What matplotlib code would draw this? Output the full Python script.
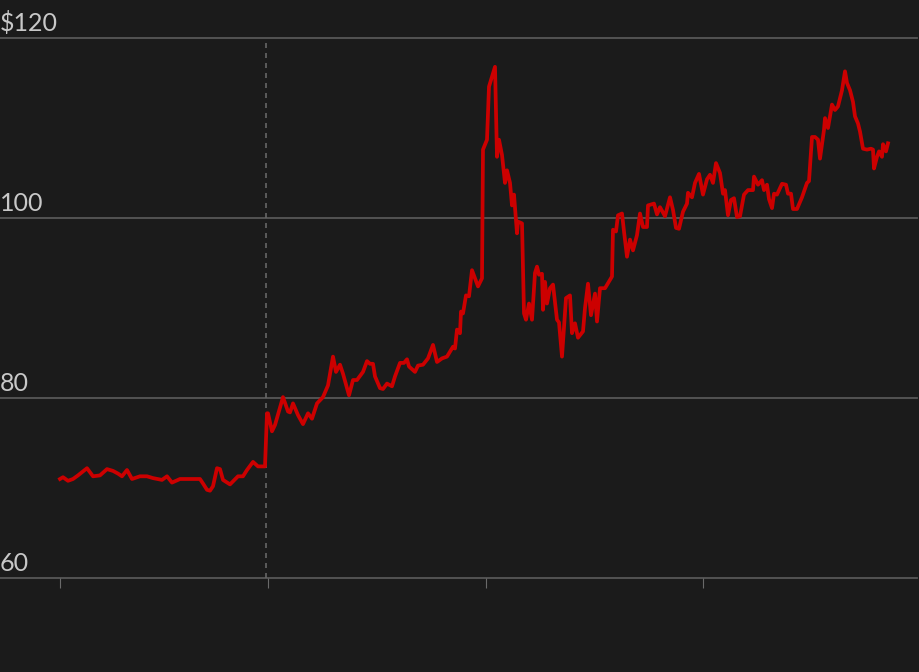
import matplotlib.pyplot as plt

# price series (t = day index, price in $)
t = [0, 3, 8, 13, 18, 27, 33, 40, 47, 53, 58, 62, 67, 72, 80, 87, 93, 102, 107, 112,
     120, 130, 140, 143, 147, 150, 153, 157, 160, 163, 170, 178, 183, 187, 193, 198, 205,
     207, 208, 212, 215, 223, 228, 230, 233, 238, 243, 248, 252, 257, 263, 268, 270, 273,
     276, 280, 283, 289, 293, 297, 303, 307, 310, 313, 315, 320, 323, 327, 332, 335, 340,
     344, 347, 349, 355, 358, 363, 368, 373, 377, 382, 387, 393, 395, 397, 400, 401, 403,
     406, 409, 412, 418, 422, 423, 427, 429, 435, 437, 439, 442, 445, 447, 450, 452, 454,
     457, 458, 462, 464, 466, 469, 472, 475, 477, 479, 482, 483, 485, 487, 490, 493, 497,
     499, 502, 506, 510, 512, 515, 518, 523, 525, 528, 531, 535, 537, 540, 545, 552, 553,
     556, 558, 562, 564, 567, 570, 573, 577, 580, 583, 587, 588, 594, 597, 600, 605, 610,
     613, 616, 619, 623, 627, 628, 632, 635, 639, 643, 647, 650, 653, 656, 660, 663, 665,
     668, 671, 674, 677, 680, 684, 688, 693, 694, 698, 702, 704, 707, 709, 712, 714, 717,
     722, 726, 728, 731, 733, 737, 742, 747, 749, 752, 755, 758, 760, 764, 765, 768, 772,
     775, 778, 782, 785, 787, 790, 793, 795, 798, 800, 803, 807, 811, 813, 814, 817, 819,
     822, 823, 826, 828]
price = [71.0, 71.2, 70.8, 71.0, 71.4, 72.2, 71.3, 71.4, 72.1, 71.9, 71.6, 71.3, 72.0,
         71.0, 71.3, 71.3, 71.1, 70.9, 71.3, 70.6, 71.0, 71.0, 71.0, 70.5, 69.8, 69.7,
         70.2, 72.2, 72.1, 70.9, 70.4, 71.3, 71.3, 72.0, 72.9, 72.4, 72.4, 78.3, 78.3,
         76.3, 77.0, 80.1, 78.5, 78.4, 79.4, 78.1, 77.1, 78.3, 77.7, 79.4, 80.1, 81.4,
         82.7, 84.6, 82.9, 83.7, 82.7, 80.3, 82.0, 82.0, 82.9, 84.1, 83.8, 83.8, 82.4,
         81.1, 81.0, 81.6, 81.3, 82.4, 83.9, 83.9, 84.3, 83.5, 82.9, 83.6, 83.7, 84.4,
         85.9, 84.0, 84.4, 84.6, 85.7, 85.5, 87.6, 87.2, 89.6, 89.4, 91.4, 91.3, 94.2,
         92.4, 93.3, 107.6, 108.7, 114.6, 116.8, 106.8, 108.7, 107.0, 103.9, 105.3, 103.9,
         101.4, 102.6, 98.3, 99.6, 99.4, 89.4, 88.7, 90.5, 88.7, 93.9, 94.6, 93.7, 93.8,
         89.8, 92.9, 90.5, 92.2, 92.6, 88.7, 88.4, 84.6, 91.1, 91.4, 87.2, 88.3, 86.7,
         87.4, 90.0, 92.7, 89.2, 91.6, 88.5, 92.2, 92.2, 93.5, 98.7, 98.5, 100.3, 100.5,
         98.5, 95.7, 97.6, 96.4, 98.1, 100.5, 99.0, 99.0, 101.4, 101.6, 100.4, 101.2,
         100.2, 102.3, 100.9, 98.9, 98.8, 100.7, 101.6, 102.8, 102.3, 103.9, 104.9, 102.6,
         104.3, 104.8, 103.9, 106.1, 105.0, 102.7, 103.1, 100.3, 102.0, 102.2, 100.1,
         100.2, 102.6, 103.1, 103.1, 104.6, 103.7, 104.2, 103.1, 103.7, 102.1, 101.1,
         102.7, 102.6, 103.8, 103.7, 102.7, 102.7, 101.0, 101.0, 102.3, 103.9, 104.1,
         109.0, 109.0, 108.7, 106.6, 109.8, 111.1, 110.0, 112.6, 112.0, 112.4, 114.2,
         116.3, 115.0, 114.2, 112.9, 111.3, 110.5, 109.6, 107.7, 107.6, 107.7, 107.6,
         105.5, 106.8, 107.4, 106.8, 108.2, 107.4, 108.3]

y_levels = [60, 80, 100, 120]
y_labels = ['60', '80', '100', '$120']
x_ticks = [0, 208, 426, 643]
marker_t = 206

bg = '#1b1b1b'
fig = plt.figure(figsize=(9.2, 6.72), dpi=100, facecolor=bg)
ax = fig.add_axes([0, 1 - 578 / 672, 917 / 920, 540 / 672])
ax.set_facecolor(bg)

for y in y_levels:
    ax.axhline(y, color='#575757', lw=1.3, zorder=1, clip_on=False)

ax.axvline(marker_t, color='#666666', lw=1.2, ls=(0, (3, 3)), zorder=1)

ax.plot(t, price, color='#cc0000', lw=2.7, solid_joinstyle='round', zorder=3)

for y, lab in zip(y_levels, y_labels):
    ax.annotate(lab, xy=(0, y), xycoords=('axes fraction', 'data'),
                xytext=(0, 2.5), textcoords='offset points',
                ha='left', va='bottom', fontsize=18, color='#c8c8c8',
                family='Lato')

ax.set_xlim(-60, 857)
ax.set_ylim(60, 120)
ax.set_xticks(x_ticks)
ax.set_yticks([])
ax.tick_params(axis='x', direction='out', length=7, width=0.8,
               color='#6a6a6a', labelbottom=False)
for s in ax.spines.values():
    s.set_visible(False)

fig.savefig('out.png', facecolor=bg)
